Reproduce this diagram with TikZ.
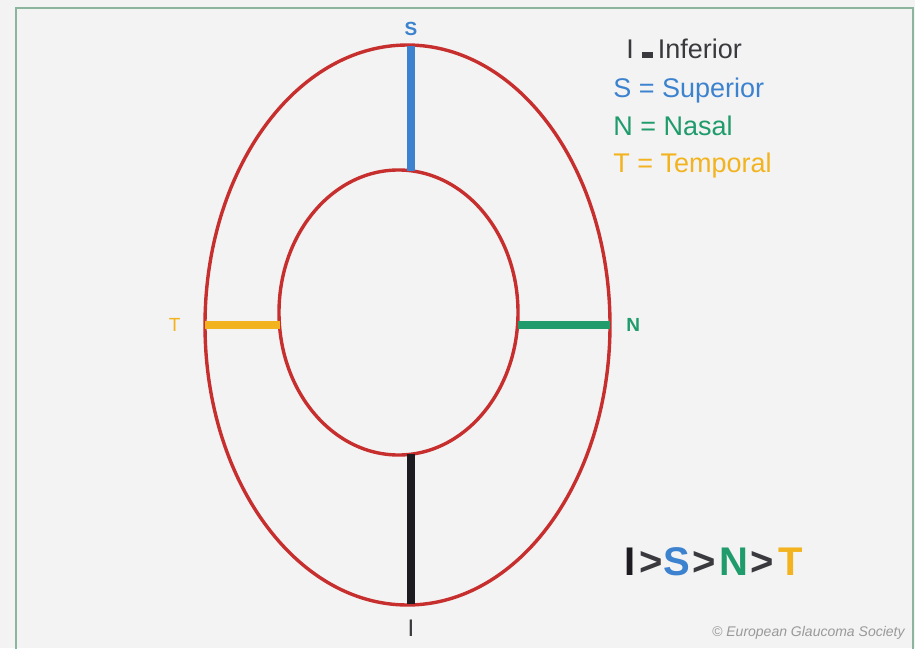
\documentclass[tikz,border=0pt]{standalone}
\usepackage{fontspec}
\setmainfont{Liberation Sans}
\usepackage{xcolor}
\usepackage{tikz}
\usetikzlibrary{positioning}
\definecolor{rimred}{HTML}{C62F2E}
\definecolor{supblue}{HTML}{3C82CF}
\definecolor{nasgreen}{HTML}{1F9B6C}
\definecolor{tempyellow}{HTML}{F2B31E}
\definecolor{infblack}{HTML}{1D1B20}
\definecolor{textgrey}{HTML}{3A3A3E}
\definecolor{framegreen}{HTML}{8BB59C}
\definecolor{paper}{HTML}{F3F3F3}

\begin{document}
\begin{tikzpicture}[
    x=0.5pt, y=-0.5pt,
    rim/.style={draw=rimred, line width=1.7pt},
    bar/.style={line width=4pt},
    tag/.style={font=\bfseries\fontsize{9.5}{11}\selectfont, inner sep=0pt},
    legend/.style={anchor=base west, inner sep=0pt, font=\fontsize{13.5}{16}\selectfont}
]
\useasboundingbox (0,0) rectangle (915,648);
\clip (0,0) rectangle (915,648);
\fill[paper] (0,0) rectangle (915,648);
\draw[framegreen, line width=1.2pt] (16,660) |- (913,8) -- (913,660);

% neuroretinal rim: disc and cup
\draw[rim] (407.5,325) ellipse [x radius=202.5, y radius=280];
\draw[rim] (398.5,312.5) ellipse [x radius=119.5, y radius=142.5];

% rim width in the four sectors
\coordinate (supOut) at (411,46);
\coordinate (supIn)  at (411,171);
\coordinate (infIn)  at (411,454);
\coordinate (infOut) at (411,604);
\coordinate (temOut) at (205,325);
\coordinate (temIn)  at (280,325);
\coordinate (nasIn)  at (518,325);
\coordinate (nasOut) at (610,325);

\draw[bar, supblue]    (supOut) -- (supIn);
\draw[bar, infblack]   (infIn) -- (infOut);
\draw[bar, tempyellow] (temOut) -- (temIn);
\draw[bar, nasgreen]   (nasIn) -- (nasOut);

\node (labS) [tag, text=supblue, above=5pt of supOut] {S};
\node (labI) [tag, text=textgrey, below=8pt of infOut, font=\fontsize{12}{14}\selectfont] {I};
\node (labT) [tag, text=tempyellow, left=12pt of temOut, font=\fontsize{9.5}{11}\selectfont] {T};
\node (labN) [tag, text=nasgreen, right=8pt of nasOut] {N};

% legend
\node (legI) [legend, text=textgrey] at (626,58) {I\hspace{4pt}\rule{5.5pt}{3pt}\hspace{2.5pt}Inferior};
\node (legS) [legend, text=supblue] at (613,97) {S = Superior};
\node (legN) [legend, text=nasgreen] at (613,135) {N = Nasal};
\node (legT) [legend, text=tempyellow] at (613,172) {T = Temporal};

\node (rank) [anchor=west, inner sep=0pt, text=textgrey, font=\bfseries\fontsize{20}{24}\selectfont] at (624,562)
  {\textcolor{infblack}{I}\hspace{2pt}>\hspace{0.5pt}\textcolor{supblue}{S}\hspace{1pt}>\hspace{2pt}\textcolor{nasgreen}{N}\hspace{1pt}>\hspace{2pt}\textcolor{tempyellow}{T}};

\node (credit) [anchor=east, inner sep=0pt, text=gray!80, font=\itshape\fontsize{7}{8}\selectfont] at (905,633) {© European Glaucoma Society};
\end{tikzpicture}
\end{document}
